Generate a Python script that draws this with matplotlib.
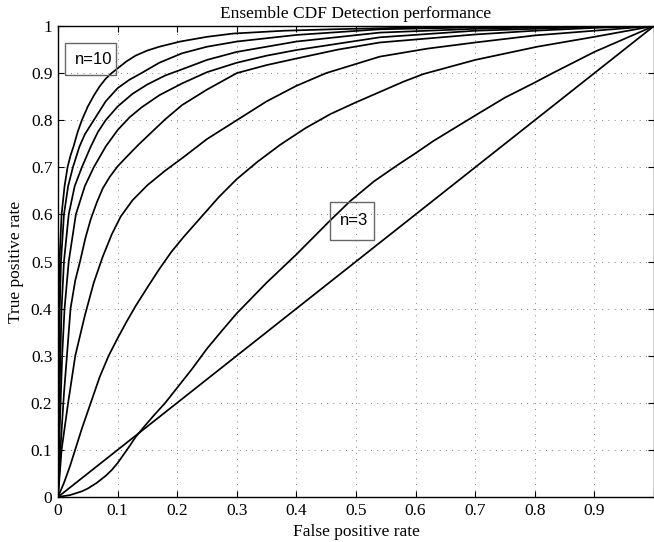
import matplotlib
matplotlib.use("Agg")
import matplotlib.pyplot as plt
from matplotlib.patches import Rectangle

# ROC curves of the ensemble detector, ensemble size n = 3 ... 10
fpr_n3 = [0, 0.02, 0.03, 0.04, 0.05, 0.065, 0.08, 0.09, 0.1, 0.11, 0.12, 0.13, 0.145, 0.16, 0.18, 0.2,
          0.225, 0.25, 0.275, 0.3, 0.35, 0.4, 0.455, 0.49, 0.53, 0.57, 0.6, 0.63, 0.7, 0.75, 0.8, 0.83, 0.9, 1.0]
tpr_n3 = [0, 0.004, 0.008, 0.012, 0.018, 0.03, 0.045, 0.057, 0.072, 0.09, 0.108, 0.127, 0.15, 0.172, 0.2, 0.232,
          0.272, 0.315, 0.353, 0.39, 0.455, 0.515, 0.585, 0.628, 0.67, 0.705, 0.73, 0.756, 0.81, 0.848, 0.88, 0.9, 0.945, 1.0]

fpr_n4 = [0, 0.01, 0.02, 0.03, 0.04, 0.055, 0.07, 0.085, 0.1, 0.115, 0.13, 0.15, 0.17, 0.19, 0.21, 0.24,
          0.27, 0.3, 0.335, 0.373, 0.415, 0.457, 0.5, 0.54, 0.58, 0.613, 0.7, 0.804, 0.9, 1.0]
tpr_n4 = [0, 0.03, 0.065, 0.105, 0.145, 0.2, 0.255, 0.3, 0.337, 0.372, 0.405, 0.445, 0.484, 0.52, 0.551, 0.594,
          0.637, 0.675, 0.712, 0.748, 0.783, 0.813, 0.838, 0.86, 0.882, 0.898, 0.928, 0.956, 0.977, 1.0]

fpr_n5 = [0, 0.006, 0.017, 0.029, 0.045, 0.06, 0.075, 0.09, 0.105, 0.125, 0.15, 0.18, 0.21, 0.25, 0.3,
          0.35, 0.4, 0.45, 0.54, 0.62, 0.7, 0.8, 0.9, 1.0]
tpr_n5 = [0, 0.1, 0.2, 0.3, 0.385, 0.455, 0.51, 0.557, 0.595, 0.63, 0.662, 0.693, 0.721, 0.76, 0.8,
          0.84, 0.873, 0.9, 0.935, 0.952, 0.965, 0.98, 0.99, 1.0]

fpr_n6 = [0, 0.005, 0.01, 0.015, 0.021, 0.029, 0.037, 0.046, 0.055, 0.065, 0.075, 0.087, 0.1, 0.115, 0.135,
          0.155, 0.18, 0.208, 0.25, 0.3, 0.35, 0.4, 0.47, 0.54, 0.7, 0.8, 0.9, 1.0]
tpr_n6 = [0, 0.12, 0.22, 0.3, 0.4, 0.46, 0.5, 0.55, 0.59, 0.625, 0.655, 0.68, 0.702, 0.722, 0.748,
          0.772, 0.802, 0.832, 0.865, 0.9, 0.917, 0.931, 0.95, 0.965, 0.982, 0.99, 0.996, 1.0]

fpr_n7 = [0, 0.003, 0.007, 0.011, 0.018, 0.03, 0.045, 0.06, 0.08, 0.1, 0.12, 0.14, 0.17, 0.208, 0.25,
          0.3, 0.35, 0.4, 0.54, 0.7, 0.85, 1.0]
tpr_n7 = [0, 0.15, 0.3, 0.4, 0.5, 0.6, 0.66, 0.7, 0.744, 0.779, 0.806, 0.827, 0.853, 0.878, 0.902,
          0.922, 0.937, 0.949, 0.976, 0.99, 0.996, 1.0]

fpr_n8 = [0, 0.002, 0.004, 0.006, 0.01, 0.018, 0.028, 0.04, 0.055, 0.067, 0.08, 0.1, 0.125, 0.15, 0.18,
          0.208, 0.25, 0.3, 0.4, 0.54, 0.7, 0.85, 1.0]
tpr_n8 = [0, 0.17, 0.3, 0.4, 0.5, 0.6, 0.66, 0.7, 0.744, 0.775, 0.8, 0.829, 0.856, 0.876, 0.895,
          0.908, 0.928, 0.945, 0.967, 0.986, 0.994, 0.998, 1.0]

fpr_n9 = [0, 0.001, 0.002, 0.003, 0.005, 0.01, 0.017, 0.025, 0.036, 0.045, 0.055, 0.065, 0.08, 0.1, 0.12,
          0.14, 0.17, 0.208, 0.25, 0.3, 0.4, 0.54, 0.7, 0.85, 1.0]
tpr_n9 = [0, 0.18, 0.3, 0.4, 0.5, 0.6, 0.66, 0.7, 0.744, 0.77, 0.79, 0.81, 0.84, 0.868, 0.886,
          0.9, 0.922, 0.942, 0.956, 0.967, 0.981, 0.993, 0.997, 0.999, 1.0]

fpr_n10 = [0, 0.0005, 0.001, 0.0025, 0.006, 0.011, 0.016, 0.021, 0.026, 0.033, 0.04, 0.05, 0.06, 0.07,
           0.08, 0.09, 0.1, 0.115, 0.13, 0.15, 0.17, 0.205, 0.25, 0.294, 0.38, 0.46, 0.6, 0.8, 1.0]
tpr_n10 = [0, 0.2, 0.3, 0.5, 0.6, 0.66, 0.7, 0.725, 0.744, 0.775, 0.8, 0.829, 0.852, 0.872,
           0.888, 0.9, 0.91, 0.925, 0.937, 0.948, 0.956, 0.967, 0.977, 0.984, 0.99, 0.993, 0.997, 0.999, 1.0]

curves = [(fpr_n3, tpr_n3), (fpr_n4, tpr_n4), (fpr_n5, tpr_n5), (fpr_n6, tpr_n6),
          (fpr_n7, tpr_n7), (fpr_n8, tpr_n8), (fpr_n9, tpr_n9), (fpr_n10, tpr_n10)]

ticks = [0, 0.1, 0.2, 0.3, 0.4, 0.5, 0.6, 0.7, 0.8, 0.9, 1]
xtick_labels = ["0", "0.1", "0.2", "0.3", "0.4", "0.5", "0.6", "0.7", "0.8", "0.9", ""]
ytick_labels = ["0", "0.1", "0.2", "0.3", "0.4", "0.5", "0.6", "0.7", "0.8", "0.9", "1"]

serif = "Liberation Serif"
sans = "Liberation Sans"
fs = 12.5

fig = plt.figure(figsize=(6.54, 5.42), dpi=100)
ax = fig.add_axes([58 / 654, 45 / 542, 596 / 654, 471 / 542])

for fpr, tpr in curves:
    ax.plot(fpr, tpr, color="black", lw=1.25)
# chance line
ax.plot([0, 1], [0, 1], color="black", lw=1.25)

ax.set_xlim(0, 1)
ax.set_ylim(0, 1)
ax.set_xticks(ticks)
ax.set_yticks(ticks)
ax.set_xticklabels(xtick_labels, fontfamily=serif, fontsize=fs)
ax.set_yticklabels(ytick_labels, fontfamily=serif, fontsize=fs)
ax.tick_params(direction="in", top=True, right=True, length=4, width=0.8, pad=4)
ax.grid(True, color="0.35", lw=0.6, linestyle=(0, (1, 6.5)))
for sp in ax.spines.values():
    sp.set_linewidth(1.0)

ax.set_title("Ensemble CDF Detection performance", fontfamily=serif, fontsize=fs, pad=6)
ax.set_xlabel("False positive rate", fontfamily=serif, fontsize=fs, labelpad=4)
ax.set_ylabel("True positive rate", fontfamily=serif, fontsize=fs, labelpad=5)

# labels for the outermost and innermost curves
ax.add_patch(Rectangle((0.012, 0.895), 0.085, 0.068, fill=False, edgecolor="0.4", lw=1.0, zorder=5))
ax.text(0.091, 0.928, "n=10", fontfamily=sans, fontsize=12, ha="right", va="center", zorder=6)
ax.add_patch(Rectangle((0.457, 0.545), 0.074, 0.082, fill=False, edgecolor="0.4", lw=1.0, zorder=5))
ax.text(0.52, 0.586, "n=3", fontfamily=sans, fontsize=12, ha="right", va="center", zorder=6)

fig.savefig("out.png", dpi=100)
